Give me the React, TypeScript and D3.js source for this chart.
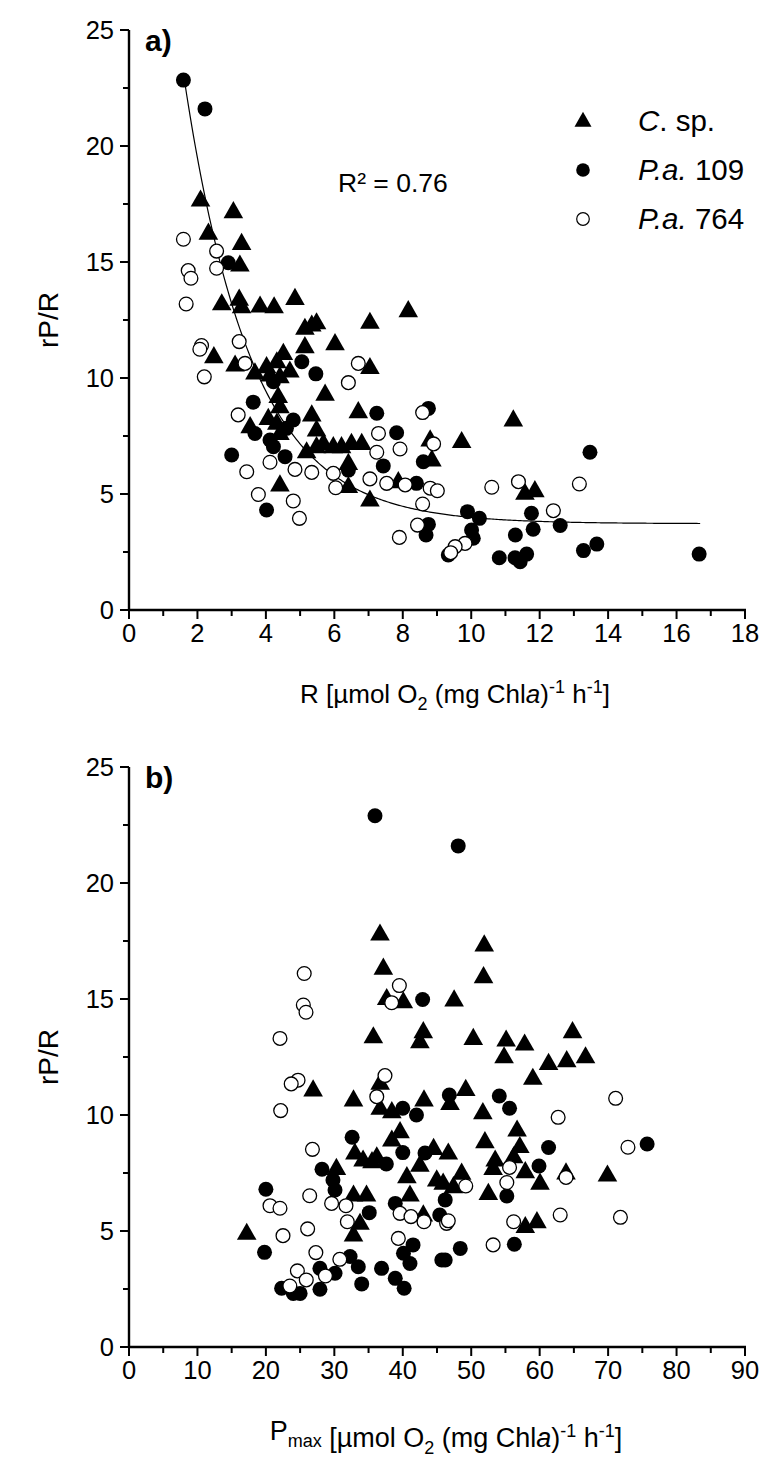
import React from "react";
import * as d3 from "d3";

// ---------- Data: panel a (R vs rP/R) ----------
const aTriR = [2.09,3.05,2.32,3.29,3.24,2.71,3.22,3.29,3.83,4.24,4.85,7.04,8.16,5.14,5.34,5.48,2.48,5.14,6.02,3.1,7.04,4.51,4.32,4.02,3.68,4.7,4.12,4.41,5.73,4.36,4.41,4.07,3.54,5.34,6.7,4.32,4.41,5.48,5.68,5.97,6.21,6.5,6.8,5.19,5.48,6.41,7.87,6.41,4.41,7.04,11.23,8.8,9.72,8.85,11.57,11.86];
const aTriV = [17.67,17.17,16.24,15.8,14.87,13.2,13.4,13.07,13.1,13.07,13.43,12.4,12.9,12.14,12.28,12.38,10.92,11.35,11.48,10.56,10.45,11.06,10.7,10.49,10.22,10.3,10.13,10.06,9.3,9.2,8.76,8.26,7.9,8.41,8.55,8.05,7.61,7.76,7.18,7.04,7.04,7.18,7.18,6.82,7.04,6.32,5.53,5.32,5.39,4.74,8.19,7.33,7.26,6.47,5.03,5.14];
const aFillR = [1.59,2.22,2.9,5.05,5.46,3.63,4.22,4.8,4.6,7.24,3.68,4.12,4.22,7.82,3.0,4.56,7.43,6.41,4.02,8.75,8.6,8.4,9.89,10.24,11.76,12.6,8.75,8.68,10.01,10.06,9.33,11.81,11.29,10.82,11.28,11.43,11.62,13.47,13.67,13.28,16.66];
const aFillV = [22.84,21.6,14.97,10.7,10.18,8.96,9.84,8.19,7.83,8.48,7.61,7.33,7.04,7.64,6.68,6.61,6.21,6.03,4.31,8.69,6.39,5.46,4.24,3.95,4.17,3.64,3.69,3.23,3.45,3.09,2.37,3.48,3.23,2.25,2.25,2.08,2.41,6.8,2.84,2.56,2.41];
const aOpenR = [1.59,2.56,2.56,1.73,1.81,1.67,2.12,2.07,3.22,6.7,6.41,2.2,3.39,3.19,4.12,3.44,4.85,5.34,7.24,5.97,7.04,7.53,8.07,6.04,3.78,4.8,4.98,7.9,7.29,7.92,8.58,8.9,8.8,9.01,10.6,11.38,12.4,8.58,8.43,9.82,9.53,9.4,13.16];
const aOpenV = [15.98,15.47,14.73,14.63,14.3,13.19,11.4,11.24,11.57,10.63,9.8,10.05,10.63,8.41,6.37,5.96,6.06,5.93,6.8,5.89,5.65,5.46,5.39,5.27,4.98,4.7,3.95,3.13,7.61,6.94,8.51,7.16,5.25,5.14,5.29,5.53,4.28,4.57,3.66,2.87,2.73,2.47,5.43];

// exponential decay fit shown in panel a
const fitY0 = 3.72;
const fitA = 43.5;
const fitT = 1.97;
const fitRange = [1.59, 16.7];
const fitLabel = "R² = 0.76";

// ---------- Data: panel b (Pmax vs rP/R) ----------
const bTriP = [36.67,37.16,37.65,40.08,47.5,35.7,43.0,42.5,51.9,51.8,50.3,55.1,54.8,57.8,64.8,61.3,63.95,66.7,26.9,32.8,36.7,36.7,38.4,43.1,39.6,38.4,33.0,34.2,36.2,35.5,44.5,42.5,40.6,44.96,30.3,32.8,34.7,33.75,32.8,41.05,43.0,17.2,59.0,49.2,46.9,51.7,56.7,52.0,57.1,46.65,53.5,56.2,53.2,57.9,48.6,60.05,63.85,69.9,45.9,47.4,52.5,57.9,59.6];
const bTriV = [17.8,16.33,15.02,14.88,14.96,13.37,13.59,13.16,17.33,15.96,13.3,13.23,12.51,13.06,13.59,12.22,12.34,12.51,11.08,10.65,11.37,10.29,10.14,10.65,9.28,8.92,8.36,8.06,8.2,7.99,8.56,7.84,7.34,7.2,7.7,6.55,6.55,5.33,4.83,6.55,5.69,4.9,11.58,11.1,10.5,10.1,9.35,8.85,8.64,8.36,8.06,8.2,7.7,7.56,7.49,7.06,7.5,7.41,7.06,6.91,6.62,5.19,5.4];
const bFillP = [35.94,48.1,42.9,40.0,42.0,40.0,32.6,37.6,43.25,28.2,29.8,20.0,30.1,35.1,38.9,45.4,19.8,41.5,40.1,41.05,45.7,32.3,33.5,27.9,30.1,36.9,38.9,40.2,34.0,27.9,22.3,24.0,25.0,46.8,54.1,55.6,61.3,75.7,59.9,55.2,46.2,48.4,56.3,46.2];
const bFillV = [22.9,21.6,14.98,10.29,10.0,8.38,9.04,7.89,8.36,7.66,7.2,6.8,6.77,5.79,6.19,5.69,4.08,4.4,4.04,3.6,3.75,3.9,3.46,3.39,3.18,3.39,2.96,2.53,2.72,2.49,2.53,2.31,2.31,10.86,10.82,10.29,8.6,8.75,7.8,6.51,6.34,4.25,4.43,3.75];
const bOpenP = [25.6,39.5,25.47,25.86,38.38,22.06,24.7,23.7,22.16,37.4,36.2,26.8,26.4,20.6,22.06,29.6,31.7,31.9,39.6,41.2,43.1,22.5,26.1,39.35,27.3,30.8,24.6,28.7,25.9,23.5,71.1,62.7,72.9,55.6,55.2,63.85,49.2,46.4,46.65,56.2,63.0,71.8,53.2];
const bOpenV = [16.1,15.58,14.74,14.43,14.84,13.3,11.5,11.34,10.19,11.7,10.79,8.52,6.52,6.09,5.98,6.19,6.09,5.4,5.76,5.62,5.4,4.8,5.09,4.68,4.07,3.78,3.28,3.06,2.89,2.63,10.72,9.9,8.61,7.74,7.09,7.31,6.94,5.33,5.44,5.4,5.69,5.59,4.4];

// ticks
const yTicks = [0, 5, 10, 15, 20, 25];
const yMinor = [2.5, 7.5, 12.5, 17.5, 22.5];
const aXTicks = [0, 2, 4, 6, 8, 10, 12, 14, 16, 18];
const aXMinor = [1, 3, 5, 7, 9, 11, 13, 15, 17];
const bXTicks = [0, 10, 20, 30, 40, 50, 60, 70, 80, 90];
const bXMinor = [5, 15, 25, 35, 45, 55, 65, 75, 85];

const FONT = "'Liberation Sans', Arial, sans-serif";
const TRI = 9.8; // half-width
const CR = 7.5;

function tri(cx: number, cy: number, s: number) {
  const h = s * 1.75;
  return `M${cx},${cy - h * 0.62}L${cx + s},${cy + h * 0.38}L${cx - s},${cy + h * 0.38}Z`;
}

type PanelProps = {
  x: d3.ScaleLinear<number, number>;
  y: d3.ScaleLinear<number, number>;
  xTicks: number[];
  xMinor: number[];
  tri: [number[], number[]];
  fill: [number[], number[]];
  open: [number[], number[]];
  label: string;
  xTitle: React.ReactNode;
  titleX: number;
  titleSize: number;
  children?: React.ReactNode;
};

function Panel({ x, y, xTicks, xMinor, tri: T, fill: F, open: O, label, xTitle, titleX, titleSize, children }: PanelProps) {
  const x0 = x.range()[0], x1 = x.range()[1];
  const yb = y.range()[0], yt = y.range()[1];
  return (
    <g>
      {children}
      {T[0].map((v, i) => (
        <path key={"t" + i} d={tri(x(v), y(T[1][i]), TRI)} fill="#000" />
      ))}
      {F[0].map((v, i) => (
        <circle key={"f" + i} cx={x(v)} cy={y(F[1][i])} r={CR} fill="#000" />
      ))}
      {O[0].map((v, i) => (
        <circle key={"o" + i} cx={x(v)} cy={y(O[1][i])} r={CR - 0.6} fill="#fff" stroke="#000" strokeWidth={1.3} />
      ))}
      {/* axes */}
      <line x1={x0} x2={x0} y1={yb + 1} y2={yt} stroke="#000" strokeWidth={2.4} />
      <line x1={x0 - 1} x2={x1 + 1} y1={yb} y2={yb} stroke="#000" strokeWidth={2.4} />
      {yTicks.map((t) => (
        <g key={"yt" + t}>
          <line x1={x0 - 9} x2={x0} y1={y(t)} y2={y(t)} stroke="#000" strokeWidth={2} />
          <text x={x0 - 15} y={y(t) + 9} textAnchor="end" fontSize={25.5} fontFamily={FONT}>{t}</text>
        </g>
      ))}
      {yMinor.map((t) => (
        <line key={"ym" + t} x1={x0 - 6} x2={x0} y1={y(t)} y2={y(t)} stroke="#000" strokeWidth={2} />
      ))}
      {xTicks.map((t) => (
        <g key={"xt" + t}>
          <line x1={x(t)} x2={x(t)} y1={yb} y2={yb + 9} stroke="#000" strokeWidth={2} />
          <text x={x(t)} y={yb + 32} textAnchor="middle" fontSize={25.5} fontFamily={FONT}>{t}</text>
        </g>
      ))}
      {xMinor.map((t) => (
        <line key={"xm" + t} x1={x(t)} x2={x(t)} y1={yb} y2={yb + 6} stroke="#000" strokeWidth={2} />
      ))}
      <text x={x0 + 16} y={yt + 21} fontSize={30} fontWeight="bold" fontFamily={FONT}>{label}</text>
      <text transform={`translate(58,${(yb + yt) / 2}) rotate(-90)`} textAnchor="middle" fontSize={28} fontFamily={FONT}>rP/R</text>
      <text x={titleX} y={yb + 93} textAnchor="middle" fontSize={titleSize} fontFamily={FONT}>{xTitle}</text>
    </g>
  );
}

export default function App() {
  const xa = d3.scaleLinear().domain([0, 18]).range([129, 745]);
  const ya = d3.scaleLinear().domain([0, 25]).range([610, 30]);
  const xb = d3.scaleLinear().domain([0, 90]).range([129, 745]);
  const yb = d3.scaleLinear().domain([0, 25]).range([1347, 767]);

  const fitPts = d3.range(fitRange[0], fitRange[1] + 0.001, 0.05).map((r) => [r, fitY0 + fitA * Math.exp(-r / fitT)] as [number, number]);
  const lineGen = d3.line<[number, number]>().x((d) => xa(d[0])).y((d) => ya(d[1]));

  const unitTail = (
    <>
      <tspan> [µmol O</tspan>
      <tspan fontSize={18} dy={7}>2</tspan>
      <tspan dy={-7}> (mg Chl</tspan>
      <tspan fontStyle="italic">a</tspan>
      <tspan>)</tspan>
      <tspan fontSize={18} dy={-10}>-1</tspan>
      <tspan dy={10}> h</tspan>
      <tspan fontSize={18} dy={-10}>-1</tspan>
      <tspan dy={10}>]</tspan>
    </>
  );

  return (
    <svg width={781} height={1459} style={{ position: "absolute", left: 0, top: 0, background: "#fff" }} fontFamily={FONT}>
      <rect width={781} height={1459} fill="#fff" />
      <Panel
        x={xa}
        y={ya}
        xTicks={aXTicks}
        xMinor={aXMinor}
        tri={[aTriR, aTriV]}
        fill={[aFillR, aFillV]}
        open={[aOpenR, aOpenV]}
        label="a)"
        titleX={455}
        titleSize={26}
        xTitle={<><tspan>R</tspan>{unitTail}</>}
      >
        <path d={lineGen(fitPts) || ""} fill="none" stroke="#000" strokeWidth={1.2} />
      </Panel>
      <text x={338} y={192} fontSize={26.5} fontFamily={FONT}>{fitLabel}</text>
      {/* legend */}
      <path d={tri(583, 121, 8.5)} fill="#000" />
      <text x={638} y={131} fontSize={29.5} fontFamily={FONT}><tspan fontStyle="italic">C</tspan>. sp.</text>
      <circle cx={583} cy={170} r={6.8} fill="#000" />
      <text x={638} y={180} fontSize={29.5} fontFamily={FONT}><tspan fontStyle="italic">P.a.</tspan> 109</text>
      <circle cx={583} cy={219} r={6.3} fill="#fff" stroke="#000" strokeWidth={1.2} />
      <text x={638} y={229} fontSize={29.5} fontFamily={FONT}><tspan fontStyle="italic">P.a.</tspan> 764</text>
      <Panel
        x={xb}
        y={yb}
        xTicks={bXTicks}
        xMinor={bXMinor}
        tri={[bTriP, bTriV]}
        fill={[bFillP, bFillV]}
        open={[bOpenP, bOpenV]}
        label="b)"
        titleX={446}
        titleSize={27}
        xTitle={<><tspan>P</tspan><tspan fontSize={18} dy={7}>max</tspan><tspan dy={-7}></tspan>{unitTail}</>}
      />
    </svg>
  );
}
